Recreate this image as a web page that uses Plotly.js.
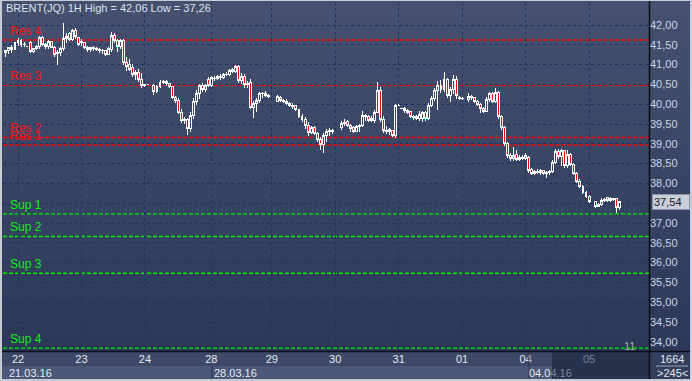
<!DOCTYPE html>
<html><head><meta charset="utf-8">
<script src="https://cdn.plot.ly/plotly-3.0.1.min.js"></script>
<style>
html,body{margin:0;padding:0;background:#3a4662;}
#wrap{position:relative;width:692px;height:381px;background:linear-gradient(#45516f,#2a3656);overflow:hidden;}
#chart{position:absolute;left:0;top:0;width:692px;height:381px;}
#frame{position:absolute;left:0;top:0;width:692px;height:381px;box-sizing:border-box;border:2px solid #c5ccd6;border-top-width:1px;pointer-events:none;}
#chart .boxlayer path {shape-rendering: crispEdges;}
</style></head>
<body><div id="wrap"><div id="chart"></div><div id="frame"></div></div>
<script>
// ---- DATA ----
const symbolName = 'BRENT(JQ)';
const timeframe = '1H';
const highValue = '42,06';
const lowValue = '37,26';
const lastPrice = 37.54;

const opens = [
41.30,41.35,41.42,41.38,41.55,41.60,41.50,41.45,41.57,41.33,
41.40,41.45,41.68,41.50,41.47,41.58,41.44,41.28,41.30,41.40,
41.65,41.78,41.64,41.86,41.68,41.55,41.55,41.42,41.38,41.42,
41.40,41.38,41.35,41.36,41.26,41.38,41.74,41.60,41.45,41.60,
41.05,41.00,40.92,40.74,40.80,40.62,40.48,40.50,null,40.46,
40.32,40.44,40.56,40.58,40.52,40.44,40.18,40.10,39.80,39.58,
39.62,39.38,39.72,40.08,40.28,40.46,40.36,40.62,40.47,40.66,
40.64,40.70,40.68,40.76,40.74,40.88,40.82,40.96,40.60,40.70,
40.50,40.54,39.92,40.02,40.10,40.26,40.28,40.22,null,null,
40.08,40.18,40.10,40.08,40.02,39.98,39.96,39.86,39.70,39.62,
39.45,39.28,39.40,39.26,39.10,38.98,39.22,39.30,39.34,null,
null,39.42,39.52,39.56,39.45,39.40,39.32,39.44,39.47,39.72,
39.68,39.64,39.58,39.80,40.34,39.62,39.34,39.30,39.34,39.20,
39.98,39.90,39.88,39.84,39.82,39.68,39.70,39.64,39.64,39.78,
39.64,39.98,40.14,40.34,40.46,40.38,40.62,40.22,40.38,40.62,
40.18,40.14,null,40.12,40.20,40.16,40.08,40.00,39.90,39.82,
40.12,40.26,40.08,40.30,39.68,39.42,39.00,38.70,38.62,38.72,
38.60,38.66,38.64,38.66,38.34,38.26,38.30,38.28,38.32,38.26,
38.28,38.30,38.54,38.80,38.68,38.82,38.46,38.72,38.48,38.24,
38.06,37.92,37.78,37.66,null,37.54,37.42,37.46,37.58,37.64,
37.58,37.62,37.62,37.40];

const highs = [
41.38,41.45,41.50,41.58,41.66,41.64,41.56,41.45,41.60,41.42,
41.50,41.72,41.72,41.55,41.62,41.60,41.48,41.38,41.45,42.06,
41.80,41.82,41.90,41.92,41.70,41.64,41.56,41.46,41.44,41.46,
41.44,41.42,41.40,41.38,41.44,41.82,41.80,41.65,41.64,41.64,
41.18,41.15,41.02,40.86,40.90,40.78,40.52,40.51,null,40.50,
40.48,40.62,40.62,40.62,40.54,40.46,40.22,40.15,39.88,39.68,
39.66,39.80,40.16,40.36,40.50,40.54,40.52,40.68,40.72,40.72,
40.74,40.76,40.80,40.82,40.90,40.92,41.00,40.98,40.78,40.76,
40.58,40.64,40.08,40.16,40.30,40.32,40.34,40.26,null,null,
40.24,40.20,40.14,40.12,40.05,40.02,39.98,39.88,39.75,39.68,
39.55,39.44,39.44,39.30,39.18,39.28,39.38,39.40,39.38,null,
null,39.58,39.62,39.60,39.50,39.44,39.48,39.50,39.82,39.76,
39.72,39.70,39.86,40.56,40.44,39.70,39.44,39.40,39.36,40.00,
40.00,39.90,39.92,39.88,39.84,39.74,39.72,39.82,39.84,39.82,
40.04,40.20,40.40,40.58,40.60,40.82,40.66,40.44,40.74,40.70,
40.20,40.18,null,40.28,40.24,40.18,40.10,40.04,39.94,40.18,
40.30,40.30,40.42,40.34,39.72,39.46,39.04,38.78,38.92,38.84,
38.72,38.72,38.76,38.70,38.38,38.34,38.36,38.36,38.34,38.32,
38.34,38.60,38.86,38.88,38.86,38.84,38.84,38.76,38.52,38.30,
38.10,37.96,37.82,37.70,null,37.56,37.50,37.62,37.64,37.66,
37.66,37.64,37.64,37.56];

const lows = [
41.20,41.28,41.30,41.36,41.48,41.44,41.45,41.45,41.30,41.30,
41.38,41.40,41.48,41.40,41.40,41.42,41.18,40.99,41.22,41.35,
41.55,41.60,41.60,41.65,41.48,41.46,41.40,41.32,41.33,41.35,
41.34,41.30,41.28,41.22,41.24,41.32,41.55,41.32,41.40,41.00,
40.85,40.85,40.68,40.62,40.55,40.42,40.44,40.49,null,40.24,
40.28,40.40,40.50,40.46,40.40,40.14,40.04,39.76,39.52,39.50,
39.21,39.30,39.62,39.98,40.12,40.30,40.30,40.44,40.44,40.58,
40.60,40.62,40.64,40.70,40.72,40.78,40.80,40.54,40.50,40.42,
40.42,39.88,39.66,39.80,40.04,40.16,40.18,40.16,null,null,
40.05,40.05,40.02,39.98,39.92,39.88,39.82,39.65,39.55,39.38,
39.20,39.25,39.22,39.04,38.85,38.78,39.05,39.20,39.26,null,
null,39.36,39.44,39.42,39.30,39.28,39.30,39.30,39.42,39.58,
39.56,39.54,39.52,39.78,39.55,39.28,39.24,39.22,39.16,39.15,
39.96,39.88,39.78,39.76,39.64,39.60,39.60,39.58,39.56,39.58,
39.60,39.92,40.08,39.86,40.28,40.30,40.16,40.06,40.26,40.14,
40.10,40.10,null,40.06,40.10,40.04,39.96,39.78,39.78,39.80,
40.06,40.02,40.02,39.62,39.36,38.94,38.64,38.56,38.56,38.56,
38.56,38.58,38.60,38.26,38.20,38.20,38.24,38.20,38.22,38.14,
38.20,38.26,38.50,38.62,38.44,38.40,38.40,38.44,38.20,38.00,
37.88,37.74,37.62,37.50,null,37.38,37.40,37.44,37.52,37.54,
37.54,37.56,37.26,37.34];

const closes = [
41.35,41.42,41.38,41.55,41.60,41.50,41.52,41.45,41.33,41.40,
41.47,41.68,41.50,41.45,41.58,41.44,41.25,41.30,41.40,41.65,
41.72,41.64,41.86,41.70,41.52,41.58,41.42,41.38,41.42,41.40,
41.38,41.35,41.36,41.26,41.40,41.74,41.60,41.45,41.60,41.05,
40.95,40.88,40.74,40.80,40.62,40.46,40.50,40.50,null,40.32,
40.44,40.56,40.58,40.52,40.44,40.18,40.10,39.80,39.58,39.62,
39.38,39.72,40.08,40.28,40.46,40.36,40.48,40.47,40.68,40.64,
40.70,40.68,40.76,40.74,40.86,40.82,40.96,40.60,40.70,40.50,
40.52,39.92,40.02,40.10,40.26,40.28,40.22,40.20,null,null,
40.20,40.10,40.08,40.02,39.98,39.94,39.86,39.70,39.62,39.45,
39.28,39.40,39.26,39.10,38.98,39.22,39.30,39.34,39.32,null,
null,39.52,39.55,39.45,39.38,39.32,39.44,39.47,39.72,39.68,
39.60,39.58,39.80,40.34,39.62,39.34,39.30,39.36,39.20,39.98,
39.98,39.89,39.84,39.80,39.68,39.66,39.64,39.74,39.78,39.64,
39.98,40.14,40.34,40.46,40.38,40.62,40.22,40.38,40.62,40.22,
40.14,40.15,null,40.20,40.16,40.08,40.00,39.88,39.82,40.12,
40.26,40.08,40.30,39.68,39.42,39.00,38.70,38.62,38.70,38.60,
38.66,38.64,38.70,38.32,38.26,38.30,38.28,38.32,38.26,38.28,
38.30,38.54,38.80,38.68,38.82,38.46,38.72,38.48,38.24,38.06,
37.92,37.78,37.66,37.54,null,37.42,37.46,37.58,37.60,37.58,
37.62,37.60,37.40,37.54];

const dayLabels = ['22','23','24','28','29','30','31','01','04','05'];
const dayStartBar = [4,25,46,68,88,109,130,151,172,193];
const weekLabels = ['21.03.16','28.03.16','04.04.16'];
const weekStartBar = [0,68,172];
const priceTicks = [34,34.5,35,35.5,36,36.5,37,37.5,38,38.5,39,39.5,40,40.5,41,41.5,42];
const hiddenTick = 37.5; // covered by the last-price box in the reference
const resNames = ['Res 1','Res 2','Res 3','Res 4'];
const resLevels = [38.97,39.16,40.48,41.62];
const supNames = ['Sup 1','Sup 2','Sup 3','Sup 4'];
const supLevels = [37.23,36.66,35.73,33.84];
const cornerCount = '11';
const panelTop = '1664';
const panelBottom = '>245<';

// ---- helpers for decoration placement (pixels -> paper) ----
const PL = 3, PR = 649, PT = 2, PB = 351;
const px2x = X => (X - PL) / (PR - PL);
const px2y = Y => (PB - Y) / (PB - PT);
const FONT = 'Liberation Sans, Arial, sans-serif';
const fmt = v => v.toFixed(2).replace('.', ',');

const barIndex = closes.map((_, i) => i);

const trace = {
  type: 'candlestick', x: barIndex, open: opens, high: highs, low: lows, close: closes,
  increasing: {line: {color: '#ffffff', width: 1}, fillcolor: 'rgba(0,0,0,0)'},
  decreasing: {line: {color: '#ffffff', width: 1}, fillcolor: '#ff0000'},
  whiskerwidth: 0, hoverinfo: 'skip', showlegend: false
};

const shapes = [];
const annotations = [];
function rect(x0, y0, x1, y1, color) {
  shapes.push({type: 'rect', xref: 'paper', yref: 'paper', x0: px2x(x0), x1: px2x(x1), y0: px2y(y1), y1: px2y(y0),
    fillcolor: color, line: {width: 0}, layer: 'below'});
}
function line(x0, y0, x1, y1, color, w) {
  shapes.push({type: 'line', xref: 'paper', yref: 'paper', x0: px2x(x0), x1: px2x(x1), y0: px2y(y0), y1: px2y(y1),
    line: {color: color, width: w || 1}, layer: 'above'});
}
// bottom panels
rect(2, 352, 649, 366, '#3d4966');
rect(2, 366, 649, 380, '#4b5877');
rect(552, 352, 649, 380, '#27324d');
rect(650, 352, 691, 380, '#333f5c');
line(212, 366, 212, 380, '#2a3450', 1);
line(529, 352, 529, 380, '#2a3450', 1);
line(656, 366, 688, 366, '#9aa4b8', 1);
// separators
line(2, 351.5, 691, 351.5, '#0b0d16', 1.5);
line(649.5, 1, 649.5, 380, '#0b0d16', 1.5);

// Res / Sup levels
resLevels.forEach((lv, i) => {
  shapes.push({type: 'line', xref: 'paper', yref: 'y', x0: 0, x1: 1, y0: lv, y1: lv,
    line: {color: '#ff0000', width: 1.4, dash: '4px,2px'}, layer: 'below'});
  annotations.push({xref: 'paper', yref: 'y', x: px2x(8), y: lv, xanchor: 'left', yanchor: 'bottom', yshift: 0,
    text: resNames[i], showarrow: false, font: {family: FONT, size: 12, color: '#ff1010'}});
});
supLevels.forEach((lv, i) => {
  shapes.push({type: 'line', xref: 'paper', yref: 'y', x0: 0, x1: 1, y0: lv, y1: lv,
    line: {color: '#00f000', width: 1.4, dash: '4px,2px'}, layer: 'below'});
  annotations.push({xref: 'paper', yref: 'y', x: px2x(8), y: lv, xanchor: 'left', yanchor: 'bottom', yshift: 0,
    text: supNames[i], showarrow: false, font: {family: FONT, size: 12, color: '#10ee10'}});
});

// title
annotations.push({xref: 'paper', yref: 'paper', x: px2x(4), y: px2y(8), xanchor: 'left', yanchor: 'middle',
  text: symbolName + ' ' + timeframe + ' High = ' + highValue + ' Low = ' + lowValue,
  showarrow: false, font: {family: FONT, size: 11, color: '#dde3ee'}});
// last price box (sits over the 37,50 tick position, as in the reference)
annotations.push({xref: 'paper', yref: 'y', x: px2x(652), y: lastPrice, xanchor: 'left', yanchor: 'middle',
  text: fmt(lastPrice), showarrow: false, bgcolor: '#c9ced8', bordercolor: '#8a93a6', borderwidth: 1, borderpad: 1,
  width: 34, align: 'left', font: {family: FONT, size: 11, color: '#1d2030'}});
// corner count
annotations.push({xref: 'paper', yref: 'paper', x: px2x(629), y: px2y(346), xanchor: 'center', yanchor: 'middle',
  text: cornerCount, showarrow: false, font: {family: FONT, size: 11, color: '#9fb59f'}});
// week labels
weekLabels.forEach((t, i) => {
  let txt = t;
  if (i === weekLabels.length - 1) txt = t.slice(0, 4) + '<span style="color:#7d879c">' + t.slice(4) + '</span>';
  annotations.push({xref: 'x', yref: 'paper', x: weekStartBar[i], y: px2y(373), xanchor: 'left', yanchor: 'middle', xshift: 1,
    text: txt, showarrow: false, font: {family: FONT, size: 11, color: '#e4e8f0'}});
});
// right bottom panel
annotations.push({xref: 'paper', yref: 'paper', x: px2x(672), y: px2y(359), xanchor: 'center', yanchor: 'middle',
  text: panelTop, showarrow: false, font: {family: FONT, size: 11, color: '#e4e8f0'}});
annotations.push({xref: 'paper', yref: 'paper', x: px2x(672), y: px2y(373), xanchor: 'center', yanchor: 'middle',
  text: panelBottom, showarrow: false, font: {family: FONT, size: 11, color: '#e4e8f0'}});

const dayText = dayLabels.map((d, i) => i === dayLabels.length - 1 ? '<span style="color:#7d879c">' + d + '</span>' : d);

const layout = {
  width: 692, height: 381,
  margin: {l: PL, r: 692 - PR, t: PT, b: 381 - PB, pad: 0},
  paper_bgcolor: 'rgba(0,0,0,0)', plot_bgcolor: 'rgba(0,0,0,0)',
  showlegend: false, dragmode: false, boxgap: 0.08,
  xaxis: {range: [-0.965, 212.85], tickvals: dayStartBar, ticktext: dayText, showgrid: true,
    gridcolor: '#1c3463', griddash: '3px,3px', gridwidth: 1, zeroline: false, showline: false, ticks: '',
    tickfont: {family: FONT, size: 11, color: '#e4e8f0'}, rangeslider: {visible: false}, fixedrange: true},
  yaxis: {side: 'right', range: [33.768, 42.581], tickvals: priceTicks,
    ticktext: priceTicks.map(v => v === hiddenTick ? '' : fmt(v)),
    showgrid: true, gridcolor: '#1c3463', griddash: '3px,3px', gridwidth: 1, zeroline: false, showline: false,
    ticks: '', tickfont: {family: FONT, size: 11, color: '#c9d4e8'}, fixedrange: true},
  shapes: shapes, annotations: annotations
};

Plotly.newPlot('chart', [trace], layout, {staticPlot: true, displayModeBar: false});
</script></body></html>
